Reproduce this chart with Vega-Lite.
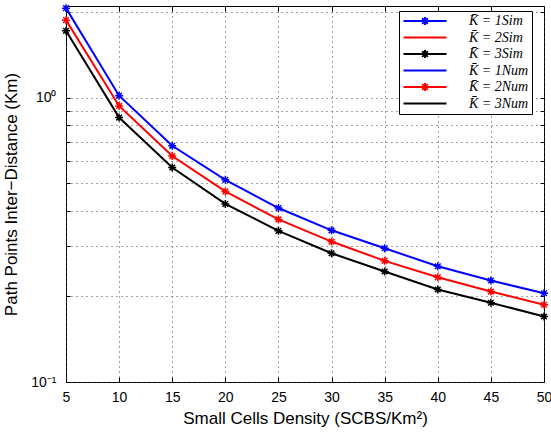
{
  "$schema": "https://vega.github.io/schema/vega-lite/v6.json",
  "width": 478,
  "height": 376,
  "autosize": "none",
  "padding": {"left": 66, "top": 6, "right": 7, "bottom": 54},
  "background": "white",
  "config": {
    "view": {"stroke": "black", "strokeWidth": 1},
    "axis": {
      "labelFont": "Liberation Sans",
      "titleFont": "Liberation Sans",
      "labelColor": "black",
      "titleColor": "black",
      "titleFontWeight": "normal",
      "domain": false,
      "tickColor": "black",
      "tickWidth": 1
    }
  },
  "data": {
    "values": [
      {"x": 5, "y": 2.064, "series": "K̄ = 1Sim"},
      {"x": 10, "y": 1.016, "series": "K̄ = 1Sim"},
      {"x": 15, "y": 0.677, "series": "K̄ = 1Sim"},
      {"x": 20, "y": 0.514, "series": "K̄ = 1Sim"},
      {"x": 25, "y": 0.409, "series": "K̄ = 1Sim"},
      {"x": 30, "y": 0.3415, "series": "K̄ = 1Sim"},
      {"x": 35, "y": 0.2953, "series": "K̄ = 1Sim"},
      {"x": 40, "y": 0.2553, "series": "K̄ = 1Sim"},
      {"x": 45, "y": 0.2274, "series": "K̄ = 1Sim"},
      {"x": 50, "y": 0.2052, "series": "K̄ = 1Sim"},
      {"x": 5, "y": 1.873, "series": "K̄ = 2Sim"},
      {"x": 10, "y": 0.935, "series": "K̄ = 2Sim"},
      {"x": 15, "y": 0.623, "series": "K̄ = 2Sim"},
      {"x": 20, "y": 0.468, "series": "K̄ = 2Sim"},
      {"x": 25, "y": 0.373, "series": "K̄ = 2Sim"},
      {"x": 30, "y": 0.3118, "series": "K̄ = 2Sim"},
      {"x": 35, "y": 0.2667, "series": "K̄ = 2Sim"},
      {"x": 40, "y": 0.2335, "series": "K̄ = 2Sim"},
      {"x": 45, "y": 0.208, "series": "K̄ = 2Sim"},
      {"x": 50, "y": 0.1869, "series": "K̄ = 2Sim"},
      {"x": 5, "y": 1.718, "series": "K̄ = 3Sim"},
      {"x": 10, "y": 0.851, "series": "K̄ = 3Sim"},
      {"x": 15, "y": 0.568, "series": "K̄ = 3Sim"},
      {"x": 20, "y": 0.423, "series": "K̄ = 3Sim"},
      {"x": 25, "y": 0.34, "series": "K̄ = 3Sim"},
      {"x": 30, "y": 0.2836, "series": "K̄ = 3Sim"},
      {"x": 35, "y": 0.2446, "series": "K̄ = 3Sim"},
      {"x": 40, "y": 0.2115, "series": "K̄ = 3Sim"},
      {"x": 45, "y": 0.19, "series": "K̄ = 3Sim"},
      {"x": 50, "y": 0.17, "series": "K̄ = 3Sim"},
      {"x": 5, "y": 2.064, "series": "K̄ = 1Num"},
      {"x": 10, "y": 1.016, "series": "K̄ = 1Num"},
      {"x": 15, "y": 0.677, "series": "K̄ = 1Num"},
      {"x": 20, "y": 0.514, "series": "K̄ = 1Num"},
      {"x": 25, "y": 0.409, "series": "K̄ = 1Num"},
      {"x": 30, "y": 0.3415, "series": "K̄ = 1Num"},
      {"x": 35, "y": 0.2953, "series": "K̄ = 1Num"},
      {"x": 40, "y": 0.2553, "series": "K̄ = 1Num"},
      {"x": 45, "y": 0.2274, "series": "K̄ = 1Num"},
      {"x": 50, "y": 0.2052, "series": "K̄ = 1Num"},
      {"x": 5, "y": 1.873, "series": "K̄ = 2Num"},
      {"x": 10, "y": 0.935, "series": "K̄ = 2Num"},
      {"x": 15, "y": 0.623, "series": "K̄ = 2Num"},
      {"x": 20, "y": 0.468, "series": "K̄ = 2Num"},
      {"x": 25, "y": 0.373, "series": "K̄ = 2Num"},
      {"x": 30, "y": 0.3118, "series": "K̄ = 2Num"},
      {"x": 35, "y": 0.2667, "series": "K̄ = 2Num"},
      {"x": 40, "y": 0.2335, "series": "K̄ = 2Num"},
      {"x": 45, "y": 0.208, "series": "K̄ = 2Num"},
      {"x": 50, "y": 0.1869, "series": "K̄ = 2Num"},
      {"x": 5, "y": 1.718, "series": "K̄ = 3Num"},
      {"x": 10, "y": 0.851, "series": "K̄ = 3Num"},
      {"x": 15, "y": 0.568, "series": "K̄ = 3Num"},
      {"x": 20, "y": 0.423, "series": "K̄ = 3Num"},
      {"x": 25, "y": 0.34, "series": "K̄ = 3Num"},
      {"x": 30, "y": 0.2836, "series": "K̄ = 3Num"},
      {"x": 35, "y": 0.2446, "series": "K̄ = 3Num"},
      {"x": 40, "y": 0.2115, "series": "K̄ = 3Num"},
      {"x": 45, "y": 0.19, "series": "K̄ = 3Num"},
      {"x": 50, "y": 0.17, "series": "K̄ = 3Num"}
    ]
  },
  "layer": [
    {
      "transform": [{"filter": "indexof(datum.series, 'Num') >= 0"}],
      "mark": {"type": "line", "strokeWidth": 2},
      "encoding": {
        "x": {
          "field": "x", "type": "quantitative",
          "scale": {"domain": [5, 50], "nice": false, "zero": false},
          "axis": {
            "orient": "bottom",
            "values": [5, 10, 15, 20, 25, 30, 35, 40, 45, 50],
            "title": "Small Cells Density (SCBS/Km²)",
            "grid": true, "gridDash": [1, 4], "gridColor": "#444", "gridWidth": 1,
            "tickSize": -5,
            "labelFontSize": 14, "titleFontSize": 17,
            "labelPadding": 13, "titlePadding": 6,
            "labelFlush": false
          }
        },
        "y": {
          "field": "y", "type": "quantitative",
          "scale": {"type": "log", "domain": [0.1, 2.1], "nice": false},
          "axis": {
            "orient": "left",
            "values": [0.1, 0.2, 0.3, 0.4, 0.5, 0.6, 0.7, 0.8, 0.9, 1, 2],
            "labelExpr": "datum.value == 1 ? '10⁰' : (datum.value == 0.1 ? '10⁻¹' : '')",
            "title": "Path Points Inter−Distance (Km)",
            "grid": true, "gridDash": [1, 4], "gridColor": "#444", "gridWidth": 1,
            "tickSize": -4,
            "labelFontSize": 14, "titleFontSize": 17,
            "labelPadding": 14, "titlePadding": 10,
            "labelFlush": false
          }
        },
        "color": {
          "field": "series", "type": "nominal",
          "scale": {
            "domain": ["K̄ = 1Sim", "K̄ = 2Sim", "K̄ = 3Sim", "K̄ = 1Num", "K̄ = 2Num", "K̄ = 3Num"],
            "range": ["#0000ff", "#ff0000", "#000000", "#0000ff", "#ff0000", "#000000"]
          },
          "legend": {
            "title": null,
            "orient": "none",
            "legendX": 333,
            "legendY": 5,
            "strokeColor": "black",
            "fillColor": "white",
            "padding": 3,
            "cornerRadius": 0,
            "rowPadding": 0.5,
            "symbolSize": 115.6,
            "symbolStrokeWidth": 2,
            "symbolOffset": 16,
            "labelOffset": 37,
            "labelFont": "Liberation Serif",
            "labelFontStyle": "italic",
            "labelFontSize": 14,
            "labelColor": "black",
            "encode": {
              "symbols": {
                "update": {
                  "shape": {"signal": "indexof(['K̄ = 1Sim', 'K̄ = 3Sim', 'K̄ = 2Num'], datum.value) >= 0 ? 'M-4,0H4M0,-0.75V0.75M-0.75,0H0.75M-0.53,-0.53L0.53,0.53M-0.53,0.53L0.53,-0.53' : 'M-4,0H4'"},
                  "fill": {"value": "transparent"}
                }
              }
            }
          }
        }
      }
    },
    {
      "transform": [{"filter": "indexof(datum.series, 'Sim') >= 0"}],
      "mark": {"type": "point", "shape": "M0,-1V1M-1,0H1M-0.7,-0.7L0.7,0.7M-0.7,0.7L0.7,-0.7", "filled": false, "size": 64, "strokeWidth": 1.5, "opacity": 1},
      "encoding": {
        "x": {
          "field": "x", "type": "quantitative",
          "axis": {
            "orient": "top",
            "values": [5, 10, 15, 20, 25, 30, 35, 40, 45, 50],
            "labels": false, "title": null, "grid": false,
            "tickSize": -5
          }
        },
        "y": {
          "field": "y", "type": "quantitative",
          "axis": {
            "orient": "right",
            "values": [0.1, 0.2, 0.3, 0.4, 0.5, 0.6, 0.7, 0.8, 0.9, 1, 2],
            "labels": false, "title": null, "grid": false,
            "tickSize": -4
          }
        },
        "color": {"field": "series", "type": "nominal"}
      }
    }
  ],
  "resolve": {"axis": {"x": "independent", "y": "independent"}}
}
